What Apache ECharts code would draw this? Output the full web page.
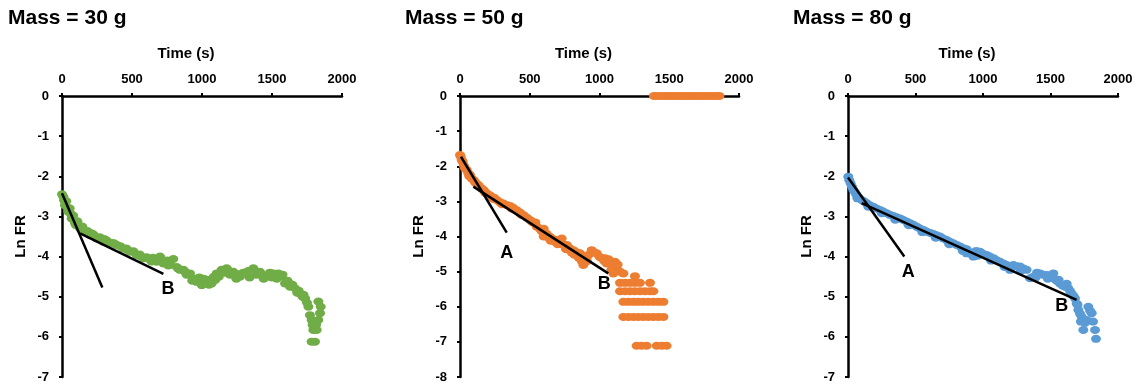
<!DOCTYPE html>
<html>
<head>
<meta charset="utf-8">
<script src="https://cdn.jsdelivr.net/npm/echarts@6/dist/echarts.min.js"></script>
<style>
  html, body { margin: 0; padding: 0; background: #fff; }
  #main { width: 1145px; height: 387px; }
</style>
</head>
<body>
<div id="main"></div>
<script>
// panel titles and axis ticks
const panelTitles = ['Mass = 30 g', 'Mass = 50 g', 'Mass = 80 g']
const yMins = [-7, -8, -7]

const mass30 = [
  [0,-2.45],[10,-2.51],[21,-2.72],[30,-2.62],[45,-2.88],[55,-2.80],[69,-3.05],[80,-2.98],[93,-3.17],[110,-3.12],
  [129,-3.30],[145,-3.25],[164,-3.38],[180,-3.36],[200,-3.46],[225,-3.45],[248,-3.55],[270,-3.52],[295,-3.63],[320,-3.60],
  [343,-3.67],[365,-3.66],[390,-3.71],[415,-3.74],[438,-3.80],[460,-3.80],[486,-3.88],[510,-3.87],[533,-3.96],[555,-3.95],
  [581,-4.04],[605,-4.02],[629,-4.08],[650,-4.03],[676,-4.13],[700,-4.00],[724,-4.17],[748,-4.10],[771,-4.18],[795,-4.06],
  [819,-4.26],[843,-4.33],[867,-4.33],[890,-4.45],[914,-4.42],[940,-4.55],[962,-4.63],[980,-4.52],[998,-4.71],[1015,-4.62],
  [1033,-4.58],[1050,-4.70],[1069,-4.67],[1085,-4.50],[1105,-4.42],[1120,-4.50],[1140,-4.33],[1160,-4.40],[1176,-4.29],[1200,-4.45],
  [1224,-4.38],[1245,-4.55],[1271,-4.50],[1295,-4.40],[1319,-4.42],[1340,-4.52],[1367,-4.29],[1390,-4.45],[1414,-4.38],[1440,-4.55],
  [1462,-4.50],[1485,-4.40],[1510,-4.42],[1535,-4.55],[1557,-4.50],[1575,-4.45],[1593,-4.67],[1610,-4.60],[1629,-4.75],[1645,-4.70],
  [1664,-4.79],[1680,-4.90],[1700,-4.92],[1718,-5.00],[1736,-5.04],[1750,-5.15],[1760,-5.25],[1771,-5.46],[1783,-5.58],[1795,-5.83],
  [1819,-5.83],[1783,-6.12],[1807,-6.12],[1831,-5.12],[1848,-5.25],[1843,-5.41],[1831,-5.58],[1790,-5.70],[1815,-5.70],
  [15,-2.60],[40,-2.78],[62,-2.93],[100,-3.22],[150,-3.33],[210,-3.42],[300,-3.56],[380,-3.69],[470,-3.84],[560,-3.99],
  [640,-4.12],[690,-4.08],[760,-4.22],[830,-4.30],[880,-4.38],[930,-4.60],[1010,-4.55],[1095,-4.58],[1190,-4.35],[1260,-4.44],
  [1330,-4.36],[1430,-4.46],[1500,-4.52],[1545,-4.42],[1620,-4.66],[1690,-4.85],[1725,-4.95]
]
const mass50 = [
  [0,-1.68],[5,-1.72],[19,-1.87],[36,-2.06],[48,-2.10],[60,-2.20],[72,-2.25],[84,-2.35],[100,-2.40],[119,-2.49],
  [135,-2.55],[155,-2.63],[170,-2.68],[191,-2.77],[210,-2.82],[227,-2.87],[245,-2.90],[263,-2.96],[285,-3.02],[311,-3.06],
  [335,-3.10],[358,-3.13],[380,-3.18],[406,-3.25],[430,-3.32],[454,-3.39],[478,-3.46],[502,-3.53],[525,-3.60],[540,-3.60],
  [550,-3.72],[573,-3.78],[597,-3.87],[600,-3.78],[600,-4.00],[620,-3.92],[645,-4.01],[650,-4.12],[670,-4.08],[693,-4.10],
  [700,-4.22],[710,-4.20],[729,-4.06],[745,-4.25],[760,-4.36],[765,-4.24],[790,-4.35],[812,-4.39],[820,-4.52],[835,-4.45],
  [850,-4.60],[860,-4.48],[872,-4.70],[884,-4.81],[900,-4.62],[920,-4.53],[944,-4.39],[960,-4.45],[980,-4.48],[1000,-4.58],
  [1016,-4.62],[1035,-4.70],[1051,-4.77],[1065,-4.65],[1075,-4.72],[1095,-4.85],[1111,-4.72],[1123,-4.91],[1099,-5.05],[1147,-5.00],
  [1171,-5.05],[1254,-5.13],[12,-1.82],[28,-1.98],[66,-2.28],[110,-2.47],[180,-2.75],[240,-2.93],[300,-3.08],[370,-3.20],
  [440,-3.38],[515,-3.58],[585,-3.85],[630,-4.02],[680,-4.15],[735,-4.22],[780,-4.32],[800,-4.45],[870,-4.55],[910,-4.70],
  [1040,-4.62],[1085,-4.95],[1130,-4.80],
  [1147,-5.32],[1183,-5.32],[1219,-5.32],[1254,-5.32],[1290,-5.32],[1362,-5.32],
  [1147,-5.56],[1183,-5.56],[1219,-5.56],[1254,-5.56],[1290,-5.56],[1326,-5.56],[1362,-5.56],[1386,-5.56],
  [1171,-5.86],[1207,-5.86],[1243,-5.86],[1278,-5.86],[1314,-5.86],[1350,-5.86],[1386,-5.86],[1422,-5.86],[1458,-5.86],
  [1171,-6.29],[1207,-6.29],[1243,-6.29],[1278,-6.29],[1314,-6.29],[1350,-6.29],[1386,-6.29],[1422,-6.29],[1458,-6.29],
  [1266,-7.11],[1302,-7.11],[1338,-7.11],[1410,-7.11],[1446,-7.11],[1481,-7.11],
  [1390,0],[1415,0],[1440,0],[1465,0],[1490,0],[1515,0],[1540,0],[1565,0],[1590,0],[1615,0],
  [1640,0],[1665,0],[1690,0],[1715,0],[1740,0],[1765,0],[1790,0],[1815,0],[1840,0],[1860,0]
]
const mass80 = [
  [2,-2.01],[10,-2.10],[20,-2.18],[30,-2.26],[40,-2.34],[52,-2.40],[64,-2.47],[80,-2.53],[101,-2.59],[120,-2.63],
  [138,-2.67],[160,-2.72],[188,-2.76],[210,-2.80],[237,-2.84],[260,-2.88],[286,-2.92],[310,-2.96],[336,-2.99],[360,-3.02],
  [385,-3.05],[410,-3.09],[435,-3.13],[460,-3.17],[484,-3.21],[510,-3.26],[533,-3.30],[560,-3.34],[583,-3.38],[610,-3.41],
  [632,-3.44],[655,-3.47],[681,-3.50],[705,-3.55],[731,-3.59],[755,-3.63],[780,-3.67],[805,-3.71],[830,-3.75],[855,-3.79],
  [879,-3.82],[879,-3.92],[905,-3.90],[928,-4.00],[950,-3.86],[978,-3.88],[1000,-3.93],[1027,-3.96],[1050,-4.00],[1077,-4.04],
  [1100,-4.09],[1126,-4.13],[1150,-4.17],[1175,-4.21],[1200,-4.33],[1225,-4.21],[1250,-4.24],[1274,-4.25],[1300,-4.30],[1323,-4.33],
  [1348,-4.54],[1373,-4.50],[1400,-4.40],[1422,-4.42],[1445,-4.45],[1472,-4.46],[1495,-4.50],[1521,-4.54],[1521,-4.42],[1545,-4.60],
  [1570,-4.67],[1590,-4.72],[1607,-4.75],[1632,-4.79],[1645,-4.86],[1657,-4.92],[1670,-4.98],[1681,-5.04],[1694,-5.17],[1706,-5.33],
  [1718,-5.42],[1731,-5.50],[1743,-5.83],[1755,-5.65],[1768,-5.58],[1780,-5.25],[1793,-5.35],[1805,-5.41],[1815,-5.62],[1830,-5.83],
  [1837,-6.05],[70,-2.55],[150,-2.76],[250,-2.92],[350,-3.08],[450,-3.22],[550,-3.39],[650,-3.53],[750,-3.69],[850,-3.86],
  [960,-3.98],[1060,-4.10],[1160,-4.26],[1280,-4.35],[1390,-4.52],[1480,-4.55],[1560,-4.58],[1620,-4.68],[1700,-5.20],[1725,-5.62]
]

// fitted lines A and B
const fitA30 = [[0,-2.42],[288,-4.77]]
const fitB30 = [[129,-3.42],[724,-4.43]]
const fitA50 = [[7,-1.73],[335,-3.89]]
const fitB50 = [[96,-2.58],[1063,-5.05]]
const fitA80 = [[0,-2.03],[417,-4.0]]
const fitB80 = [[101,-2.67],[1693,-5.08]]

// line labels
const labels30 = [{name:'B', value:[757,-4.8]}]
const labels50 = [{name:'A', value:[335,-4.48]}, {name:'B', value:[1034,-5.36]}]
const labels80 = [{name:'A', value:[447,-4.38]}, {name:'B', value:[1583,-5.22]}]

const colors = ['#70AD47', '#ED7D31', '#5B9BD5']
const points = [mass30, mass50, mass80]
const fits = [[fitA30, fitB30], [fitA50, fitB50], [fitA80, fitB80]]
const labels = [labels30, labels50, labels80]

const font = 'Liberation Sans, Arial, sans-serif'
const grids = [
  {left: 62, right: 803, top: 96, bottom: 10},
  {left: 460, right: 406, top: 96, bottom: 10},
  {left: 848, right: 27, top: 96, bottom: 10}
]
const titleLeft = [8, 405, 793]

let myChart = echarts.init(document.getElementById('main'))

let xAxis = [], yAxis = [], series = [], title = []
for (let i = 0; i < 3; i++) {
  title.push({
    text: panelTitles[i],
    left: titleLeft[i],
    top: 8,
    padding: 0,
    textStyle: {fontFamily: font, fontSize: 21, fontWeight: 'bold', color: '#000'}
  })
  xAxis.push({
    gridIndex: i,
    type: 'value',
    position: 'top',
    min: 0,
    max: 2000,
    interval: 500,
    name: 'Time (s)',
    nameLocation: 'middle',
    nameGap: 35,
    nameTextStyle: {fontFamily: font, fontSize: 15, fontWeight: 'bold', color: '#000', padding: [0, 32, 0, 0]},
    axisLine: {onZero: false, lineStyle: {color: '#000', width: 2.5}},
    axisTick: {show: true, length: 3, lineStyle: {color: '#000', width: 2}},
    axisLabel: {fontFamily: font, fontSize: 13, fontWeight: 'bold', color: '#000', margin: 10, formatter: v => String(v)},
    splitLine: {show: false}
  })
  yAxis.push({
    gridIndex: i,
    type: 'value',
    min: yMins[i],
    max: 0,
    interval: 1,
    name: 'Ln FR',
    nameLocation: 'middle',
    nameGap: 34,
    nameTextStyle: {fontFamily: font, fontSize: 15, fontWeight: 'bold', color: '#000'},
    axisLine: {onZero: false, lineStyle: {color: '#000', width: 2.5}},
    axisTick: {show: true, length: 3, lineStyle: {color: '#000', width: 2}},
    axisLabel: {fontFamily: font, fontSize: 13, fontWeight: 'bold', color: '#000', margin: 13},
    splitLine: {show: false}
  })
  series.push({
    type: 'scatter',
    xAxisIndex: i,
    yAxisIndex: i,
    symbolSize: [10, 8],
    itemStyle: {color: colors[i], opacity: 1},
    data: points[i],
    z: 2
  })
  fits[i].forEach(f => {
    series.push({
      type: 'line',
      xAxisIndex: i,
      yAxisIndex: i,
      showSymbol: false,
      lineStyle: {color: '#000', width: 2.5},
      data: f,
      z: 3
    })
  })
  series.push({
    type: 'scatter',
    xAxisIndex: i,
    yAxisIndex: i,
    symbolSize: 1,
    itemStyle: {color: '#fff', opacity: 1},
    label: {
      show: true,
      position: 'inside',
      formatter: '{b}',
      fontFamily: font,
      fontSize: 18,
      fontWeight: 'bold',
      color: '#000',
      opacity: 1,
      textBorderWidth: 0
    },
    data: labels[i],
    z: 4
  })
}

myChart.setOption({
  animation: false,
  title: title,
  grid: grids,
  xAxis: xAxis,
  yAxis: yAxis,
  series: series
})
</script>
</body>
</html>
